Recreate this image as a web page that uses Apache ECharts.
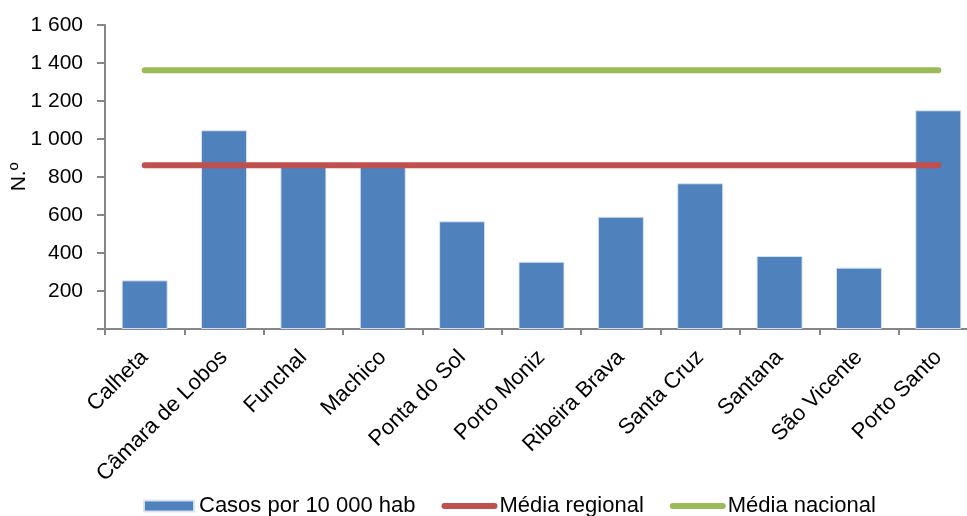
<!DOCTYPE html>
<html>
<head>
<meta charset="utf-8">
<script src="https://cdn.jsdelivr.net/npm/echarts@6/dist/echarts.min.js"></script>
<style>
  html, body { margin: 0; padding: 0; background: #fff; }
  #chart { width: 967px; height: 516px; }
</style>
</head>
<body>
<div id="chart"></div>
<script>
// Municípios da Região Autónoma da Madeira
const categories = ['Calheta', 'Câmara de Lobos', 'Funchal', 'Machico', 'Ponta do Sol',
  'Porto Moniz', 'Ribeira Brava', 'Santa Cruz', 'Santana', 'São Vicente', 'Porto Santo'];

// Casos por 10 000 habitantes
const casos = [256, 1046, 868, 866, 567, 354, 591, 767, 384, 323, 1151];

// Médias de referência (constantes ao longo dos municípios)
const mediaRegional = 862;
const mediaNacional = 1362;

const seriesNames = ['Casos por 10 000 hab', 'Média regional', 'Média nacional'];
const yTicks = [0, 200, 400, 600, 800, 1000, 1200, 1400, 1600];

const regionalLine = categories.map(() => mediaRegional);
const nacionalLine = categories.map(() => mediaNacional);

const font = 'Liberation Sans, Arial, sans-serif';
const axisGray = '#868686';
const transparent = 'rgba(0,0,0,0)';

function fmt(v) {
  if (v === 0) return '';
  return String(v).replace(/\B(?=(\d{3})+(?!\d))/g, ' ');
}

const chart = echarts.init(document.getElementById('chart'), null, { renderer: 'canvas' });
chart.setOption({
  animation: false,
  backgroundColor: '#fff',
  textStyle: { fontFamily: font },
  grid: { left: 105, top: 25, height: 304, width: 873, containLabel: false, outerBoundsMode: 'none' },
  legend: {
    left: 138,
    top: 490,
    itemWidth: 50,
    itemHeight: 11,
    itemGap: 26,
    textStyle: { fontSize: 22, color: '#000', fontFamily: font },
    data: [
      { name: seriesNames[0], icon: 'rect' },
      { name: seriesNames[1], lineStyle: { width: 6, cap: 'round' } },
      { name: seriesNames[2], lineStyle: { width: 6, cap: 'round' } }
    ]
  },
  xAxis: {
    type: 'category',
    data: categories,
    boundaryGap: true,
    axisLine: { lineStyle: { color: axisGray, width: 2 } },
    axisTick: { show: true, length: 6, alignWithLabel: false, lineStyle: { color: axisGray, width: 2 } },
    axisLabel: {
      rotate: 45,
      interval: 0,
      margin: 25,
      fontSize: 22,
      color: '#000',
      fontFamily: font
    }
  },
  yAxis: {
    type: 'value',
    min: yTicks[0],
    max: yTicks[yTicks.length - 1],
    interval: 200,
    name: 'N.º',
    nameLocation: 'middle',
    nameRotate: 90,
    nameGap: 75,
    nameMoveOverlap: false,
    nameTextStyle: { fontSize: 21, color: '#000', fontFamily: font },
    splitLine: { show: false },
    axisLine: { show: true, lineStyle: { color: axisGray, width: 2 } },
    axisTick: { show: true, length: 8, inside: false, lineStyle: { color: axisGray, width: 2 } },
    axisLabel: {
      formatter: fmt,
      margin: 22,
      fontSize: 21,
      color: '#000',
      fontFamily: font
    }
  },
  series: [
    {
      name: seriesNames[0],
      type: 'bar',
      data: casos,
      barWidth: 46,
      itemStyle: { color: '#4F81BD', borderColor: 'rgba(220,230,245,0.9)', borderWidth: 1 },
      z: 1
    },
    {
      name: seriesNames[1],
      type: 'line',
      data: regionalLine,
      symbol: 'none',
      lineStyle: { color: '#C0504D', width: 6, cap: 'round' },
      itemStyle: { color: transparent },
      z: 3
    },
    {
      name: seriesNames[2],
      type: 'line',
      data: nacionalLine,
      symbol: 'none',
      lineStyle: { color: '#9BBB59', width: 6, cap: 'round' },
      itemStyle: { color: transparent },
      z: 3
    }
  ]
});
</script>
</body>
</html>
